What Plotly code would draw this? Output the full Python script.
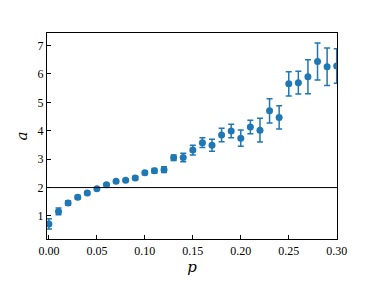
import plotly.graph_objects as go

p = [0.00, 0.01, 0.02, 0.03, 0.04, 0.05, 0.06, 0.07, 0.08, 0.09, 0.10,
     0.11, 0.12, 0.13, 0.14, 0.15, 0.16, 0.17, 0.18, 0.19, 0.20,
     0.21, 0.22, 0.23, 0.24, 0.25, 0.26, 0.27, 0.28, 0.29, 0.30]
a = [0.72, 1.16, 1.46, 1.66, 1.81, 1.96, 2.10, 2.22, 2.26, 2.34, 2.52,
     2.59, 2.63, 3.05, 3.06, 3.32, 3.58, 3.49, 3.85, 3.99, 3.74,
     4.13, 4.02, 4.70, 4.47, 5.65, 5.69, 5.90, 6.44, 6.25, 6.28]
a_err = [0.18, 0.12, 0.08, 0.06, 0.05, 0.04, 0.04, 0.04, 0.04, 0.06, 0.06,
         0.08, 0.10, 0.10, 0.15, 0.17, 0.17, 0.21, 0.24, 0.24, 0.29,
         0.24, 0.42, 0.43, 0.41, 0.43, 0.40, 0.60, 0.65, 0.66, 0.61]
threshold = 2

font = "Liberation Serif"
title_font = "DejaVu Serif"

fig = go.Figure()
fig.add_trace(go.Scatter(
    x=p, y=a, mode="markers",
    marker=dict(color="#1f77b4", size=7),
    error_y=dict(type="data", array=a_err, color="#1f77b4",
                 thickness=1.5, width=3),
    showlegend=False,
))
fig.add_hline(y=threshold, line=dict(color="black", width=1))

# page body adds an 8px offset, so margins are shifted accordingly
fig.update_layout(
    width=374, height=281,
    margin=dict(l=39, r=45, t=25, b=50, autoexpand=False),
    paper_bgcolor="white", plot_bgcolor="white",
    font=dict(family=font, size=12, color="black"),
)
fig.update_xaxes(
    range=[-0.002, 0.3003], tickvals=[0, 0.05, 0.1, 0.15, 0.2, 0.25, 0.3],
    tickformat=".2f", ticks="inside", ticklen=4, tickcolor="black",
    tickfont=dict(family=font, size=12),
    showline=True, linecolor="black", linewidth=1.3, mirror=True,
    showgrid=False, zeroline=False,
    title=dict(text="<i>p</i>", font=dict(family=title_font, size=15), standoff=3),
)
fig.update_yaxes(
    range=[0.19, 7.44], tickvals=[1, 2, 3, 4, 5, 6, 7],
    ticks="inside", ticklen=4, tickcolor="black",
    tickfont=dict(family=font, size=12),
    showline=True, linecolor="black", linewidth=1.3, mirror=True,
    showgrid=False, zeroline=False,
    title=dict(text="<i>a</i>", font=dict(family=title_font, size=15), standoff=6),
)

fig.write_html("out.html")
